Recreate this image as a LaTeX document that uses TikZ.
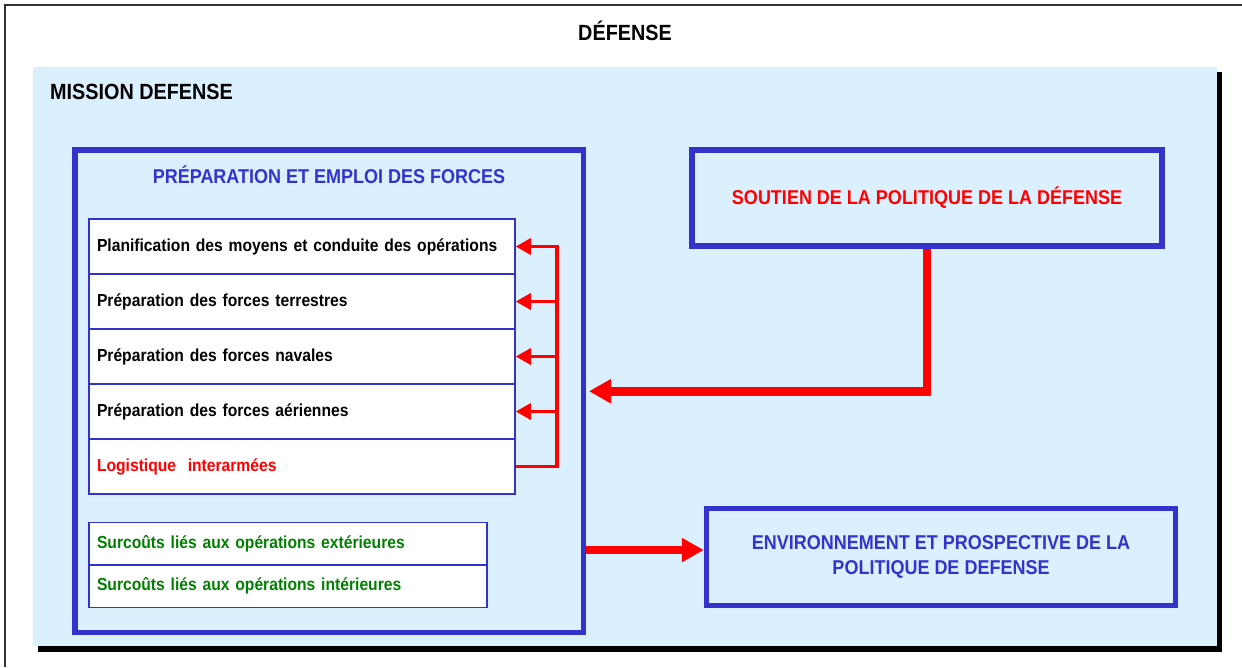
\documentclass[tikz,border=0pt]{standalone}
\usepackage{fontspec}
\setmainfont[FakeStretch=0.9]{Liberation Sans}
\usetikzlibrary{arrows.meta}
\definecolor{bleufonce}{RGB}{51,51,204}
\definecolor{bleuciel}{RGB}{219,240,254}
\definecolor{vert}{RGB}{0,128,0}

\begin{document}
\begin{tikzpicture}[x=1pt,y=-1pt,
  cadre/.style={draw=bleufonce,line width=5.5pt,align=center,font=\fontsize{20}{25}\selectfont\bfseries},
  liste/.style={draw=bleufonce,line width=1.5pt,fill=white,inner xsep=8pt,align=left,font=\fontsize{17.4}{20}\selectfont\bfseries},
  rangee/.style={liste,text width=410pt,minimum height=55pt},
  surcout/.style={liste,text width=382pt,minimum height=42.5pt,text=vert},
  titre/.style={font=\fontsize{22}{26}\selectfont\bfseries},
  fleche/.style={draw=red,line width=3.2pt,-{Triangle[length=15pt,width=16pt]}},
  grossefleche/.style={draw=red,line width=8.5pt,-{Triangle[length=22pt,width=23pt]}}]
\useasboundingbox (0,0) rectangle (1242,667);
\draw[black!80,line width=2pt] (5,667)--(5,5)--(1242,5);
\node[titre] (defense) at (625,31) {DÉFENSE};
\fill[black] (38,72) rectangle (1222,652);
\fill[bleuciel] (33,67) rectangle (1217,646);
\node[titre,anchor=west,inner sep=0pt] (mission) at (50,92) {MISSION DEFENSE};
\node[cadre,minimum width=508.5pt,minimum height=482.5pt] (prep) at (329.25,391.25) {};
\node[text=bleufonce,font=\fontsize{20}{25}\selectfont\bfseries] (preptitre) at (329,175) {PRÉPARATION ET EMPLOI DES FORCES};
\node[rangee] (planif) at (302,246.5) {Planification des moyens et conduite des opérations};
\node[rangee] (terre) at (302,301.5) {Préparation des forces terrestres};
\node[rangee] (naval) at (302,356.5) {Préparation des forces navales};
\node[rangee] (aerien) at (302,411.5) {Préparation des forces aériennes};
\node[rangee,text=red] (logis) at (302,466.5) {Logistique~ interarmées};
\node[surcout] (opex) at (288,543.75) {Surcoûts liés aux opérations extérieures};
\node[surcout] (opint) at (288,586.25) {Surcoûts liés aux opérations intérieures};
\node[cadre,text=red,minimum width=470pt,minimum height=96pt] (soutien) at (927,198) {SOUTIEN DE LA POLITIQUE DE LA DÉFENSE};
\node[cadre,text=bleufonce,minimum width=469pt,minimum height=97pt] (env) at (941,557) {ENVIRONNEMENT ET PROSPECTIVE DE LA\\POLITIQUE DE DEFENSE};
\coordinate (bus) at (557,246.5);
\draw[fleche] (logis.east) -| (bus) -- (planif.east);
\foreach \n in {terre,naval,aerien}
  \draw[fleche] (bus |- \n.east) -- (\n.east);
\coordinate (entree) at ([xshift=2.75pt]prep.east);
\draw[grossefleche] (soutien.south) |- (entree);
\coordinate (envin) at ([yshift=7pt]env.west);
\draw[grossefleche] (prep.east |- envin) -- (envin);
\end{tikzpicture}
\end{document}
